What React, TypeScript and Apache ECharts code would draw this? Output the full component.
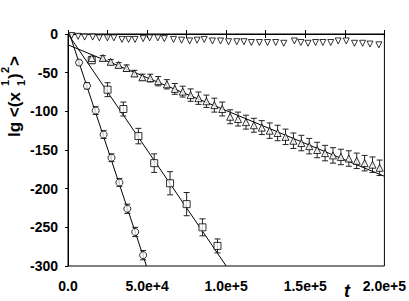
import React, { useEffect, useRef } from "react";
import * as echarts from "echarts";

// Circles (steep decay)
const circleT = [7000, 12000, 17500, 22500, 27500, 32500, 37500, 42500, 47500];
const circleY = [-37, -67, -99, -130, -160, -192, -226, -256, -286];
const circleErr = [3, 4, 5, 5, 5, 5, 6, 6, 6];
const circleFitT = [1000, 49600];
const circleFitY = [0, -300];

// Squares
const squareT = [15000, 25000, 35000, 44500, 54500, 64500, 75000, 85000, 94500];
const squareY = [-34, -72, -97, -132, -167, -193, -220, -250, -274];
const squareErr = [4, 9, 9, 10, 12, 15, 15, 11, 9];
const squareFitT = [0, 100000];
const squareFitY = [0, -300];

// Up triangles
const triUpT = [15000, 22000, 27000, 32000, 37000, 42000, 47000, 52000, 57000, 62500, 67500, 72500, 77500, 82500, 87500, 92500, 97500, 102500, 107500, 112500, 117500, 122500, 127500, 132500, 137500, 142500, 147500, 152500, 157500, 162500, 167500, 172500, 177500, 182500, 187500, 192500, 197000];
const triUpY = [-31, -31, -36, -40, -44, -51, -56, -57, -61, -65, -71, -74.5, -79, -83, -87, -92, -97, -107, -110, -114, -118, -121, -125, -128, -133, -138, -141, -145, -150, -154, -157, -159, -161, -164, -167, -169, -173];
const triUpErr = [2, 3, 3, 3, 4, 4, 4, 5, 6, 6, 7, 7, 8, 8, 8, 9, 9, 9, 9, 9, 9, 9, 10, 10, 10, 10, 10, 10, 10, 10, 10, 10, 10, 10, 10, 10, 10];
const triUpFitT = [0, 200000];
const triUpFitY = [-14, -184];

// Down triangles
const triDownT = [2300, 6400, 10500, 15600, 19800, 24900, 29000, 34100, 38300, 42400, 47500, 51600, 56800, 60900, 66700, 71800, 76900, 81600, 86100, 91300, 96400, 101500, 106700, 111200, 115900, 121000, 126100, 131300, 136400, 143100, 147200, 151700, 156500, 161100, 166100, 170800, 175900, 181100, 186200, 190900, 196500];
const triDownY = [-2, -3, -4, -4, -5, -5, -5, -7, -7, -7, -6, -5, -5, -6, -7, -8, -9, -8, -7, -9, -9, -10, -10, -10, -11, -11, -11, -11, -12, -9, -11, -12, -11, -11, -11, -9, -9, -12, -12, -13, -14];

// Axis ticks
const xMin = 0;
const xMax = 200000;
const xInterval = 50000;
const yMin = -300;
const yMax = 0;
const yInterval = 50;

const zip = (a: number[], b: number[]) => a.map((v, i) => [v, b[i]]);
const errData = (t: number[], y: number[], e: number[]) => t.map((v, i) => [v, y[i] - e[i], y[i] + e[i]]);

const errorRender = (params: any, api: any) => {
  const x = api.value(0);
  const lo = api.coord([x, api.value(1)]);
  const hi = api.coord([x, api.value(2)]);
  const w = 3;
  const st = { stroke: "#222", lineWidth: 1 };
  return {
    type: "group",
    children: [
      { type: "line", shape: { x1: lo[0], y1: lo[1], x2: hi[0], y2: hi[1] }, style: st },
      { type: "line", shape: { x1: lo[0] - w, y1: lo[1], x2: lo[0] + w, y2: lo[1] }, style: st },
      { type: "line", shape: { x1: hi[0] - w, y1: hi[1], x2: hi[0] + w, y2: hi[1] }, style: st },
    ],
  };
};

const fmtX = (v: number) => (v === 0 ? "0.0" : v.toExponential(1));

export default function App() {
  const ref = useRef<HTMLDivElement>(null);
  useEffect(() => {
    if (!ref.current) return;
    const chart = echarts.init(ref.current, null, { renderer: "svg" });
    const markerStyle = { color: "#fff", borderColor: "#000", borderWidth: 1 };
    const lineStyle = { color: "#000", width: 1 };
    const labelFont = { fontFamily: "Arial, Liberation Sans", fontWeight: "bold" as const, fontSize: 14, color: "#000" };
    const big = "bold 17px Arial, Liberation Sans";
    const small = "bold 11px Arial, Liberation Sans";
    chart.setOption({
      animation: false,
      backgroundColor: "#fff",
      grid: { left: 68, right: 17, top: 34, bottom: 35, show: true, borderColor: "#000", borderWidth: 1 },
      xAxis: [
        {
          type: "value",
          min: xMin,
          max: xMax,
          interval: xInterval,
          axisLine: { lineStyle: { color: "#000" } },
          axisTick: { inside: true, length: 4, lineStyle: { color: "#000" } },
          minorTick: { show: true, splitNumber: 2, length: 4, lineStyle: { color: "#000" } },
          splitLine: { show: false },
          axisLabel: { ...labelFont, margin: 13, formatter: fmtX },
        },
        {
          type: "value",
          position: "top",
          min: xMin,
          max: xMax,
          interval: xInterval,
          axisLine: { lineStyle: { color: "#000" } },
          axisTick: { inside: true, length: 4, lineStyle: { color: "#000" } },
          minorTick: { show: true, splitNumber: 2, length: 4, lineStyle: { color: "#000" } },
          splitLine: { show: false },
          axisLabel: { show: false },
        },
      ],
      yAxis: {
        type: "value",
        min: yMin,
        max: yMax,
        interval: yInterval,
        axisLine: { show: true, lineStyle: { color: "#000" } },
        axisTick: { show: true, length: 3, lineStyle: { color: "#000" } },
        splitLine: { show: false },
        axisLabel: { ...labelFont, margin: 10 },
      },
      graphic: [
        {
          type: "group",
          x: 14,
          y: 137,
          rotation: Math.PI / 2,
          children: [
            { type: "text", x: 0, y: 0, style: { text: "lg <(x", font: big, fill: "#000", verticalAlign: "middle", align: "left" } },
            { type: "text", x: 51, y: 7, style: { text: "1", font: small, fill: "#000", verticalAlign: "middle", align: "left" } },
            { type: "text", x: 51, y: -9, style: { text: "1", font: small, fill: "#000", verticalAlign: "middle", align: "left" } },
            { type: "text", x: 58, y: 0, style: { text: ")", font: big, fill: "#000", verticalAlign: "middle", align: "left" } },
            { type: "text", x: 64, y: -9, style: { text: "2", font: small, fill: "#000", verticalAlign: "middle", align: "left" } },
            { type: "text", x: 71, y: 0, style: { text: ">", font: big, fill: "#000", verticalAlign: "middle", align: "left" } },
          ],
        },
        {
          type: "text",
          x: 347,
          y: 291,
          style: { text: "t", font: "italic bold 18px Arial, Liberation Sans", fill: "#000", align: "center", verticalAlign: "middle" },
        },
      ],
      series: [
        { type: "line", data: zip(circleFitT, circleFitY), symbol: "none", lineStyle, z: 1 },
        { type: "line", data: zip(squareFitT, squareFitY), symbol: "none", lineStyle, z: 1 },
        { type: "line", data: zip(triUpFitT, triUpFitY), symbol: "none", lineStyle, z: 1 },
        { type: "custom", renderItem: errorRender, data: errData(circleT, circleY, circleErr), z: 2 },
        { type: "custom", renderItem: errorRender, data: errData(squareT, squareY, squareErr), z: 2 },
        { type: "custom", renderItem: errorRender, data: errData(triUpT, triUpY, triUpErr), z: 2 },
        { type: "scatter", data: zip(circleT, circleY), symbol: "circle", symbolSize: 7, itemStyle: markerStyle, z: 3 },
        { type: "scatter", data: zip(squareT, squareY), symbol: "rect", symbolSize: 7, itemStyle: markerStyle, z: 3 },
        { type: "scatter", data: zip(triUpT, triUpY), symbol: "triangle", symbolSize: 7, itemStyle: markerStyle, z: 3 },
        { type: "scatter", data: zip(triDownT, triDownY), symbol: "triangle", symbolRotate: 180, symbolSize: 6, itemStyle: markerStyle, z: 3 },
      ],
    });
    return () => chart.dispose();
  }, []);
  return <div ref={ref} style={{ width: 409, height: 301, position: "absolute", left: 0, top: 0 }} />;
}
